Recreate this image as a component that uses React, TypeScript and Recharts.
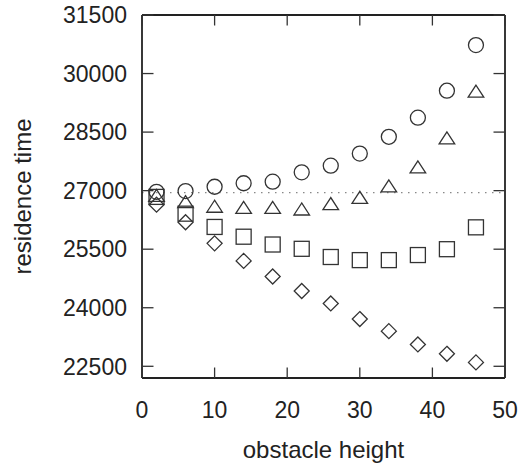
import React from 'react';
import { ScatterChart, Scatter, XAxis, YAxis, ReferenceLine } from 'recharts';

const heights = [2, 6, 10, 14, 18, 22, 26, 30, 34, 38, 42, 46];
const circleVals = [26970, 26990, 27100, 27190, 27230, 27470, 27640, 27950, 28380, 28870, 29560, 30730];
const triangleVals = [26880, 26720, 26600, 26570, 26570, 26530, 26670, 26830, 27120, 27610, 28350, 29550];
const squareVals = [26840, 26410, 26070, 25820, 25620, 25510, 25300, 25220, 25220, 25350, 25500, 26060];
const diamondVals = [26640, 26190, 25650, 25200, 24800, 24430, 24110, 23710, 23400, 23060, 22820, 22600];
const xTicks = [0, 10, 20, 30, 40, 50];
const yTicks = [22500, 24000, 25500, 27000, 28500, 30000, 31500];
const baseline = 26950;

const toPoints = (vals: number[]) => heights.map((h, i) => ({ x: h, y: vals[i] }));

const MK = '#333';
const SW = 1.3;
const FONT = '"Liberation Sans", Arial, sans-serif';
const TXT = '#222';
const TICK_FS = 23;
const TITLE_FS = 24;
const TICK_LEN = 11.5;
const TICK_STROKE = { stroke: '#333', strokeWidth: 1.3 };
const axisLineStyle = { stroke: '#222', strokeWidth: 1.8 };

const CircleShape = (p: any) => <circle cx={p.cx} cy={p.cy} r={7.5} fill="none" stroke={MK} strokeWidth={SW} />;
const TriangleShape = (p: any) => (
  <polygon
    points={`${p.cx},${p.cy - 6} ${p.cx - 7.8},${p.cy + 6} ${p.cx + 7.8},${p.cy + 6}`}
    fill="none"
    stroke={MK}
    strokeWidth={SW}
  />
);
const SquareShape = (p: any) => (
  <rect x={p.cx - 7.5} y={p.cy - 7.5} width={15} height={15} fill="none" stroke={MK} strokeWidth={SW} />
);
const DiamondShape = (p: any) => (
  <polygon
    points={`${p.cx},${p.cy - 7.5} ${p.cx + 7.5},${p.cy} ${p.cx},${p.cy + 7.5} ${p.cx - 7.5},${p.cy}`}
    fill="none"
    stroke={MK}
    strokeWidth={SW}
  />
);
const HiddenShape = () => <g />;

const LEFT_MARGIN = 15;
const BOTTOM_MARGIN = 23;

const LeftTick = (p: any) => {
  const ax = p.x + LEFT_MARGIN;
  return (
    <g>
      <line x1={ax} x2={ax + TICK_LEN} y1={p.y} y2={p.y} {...TICK_STROKE} />
      <text x={p.x} y={p.y + 0.358 * TICK_FS} textAnchor="end" fill={TXT} fontSize={TICK_FS} fontFamily={FONT}>
        {p.payload.value}
      </text>
    </g>
  );
};

const BottomTick = (p: any) => {
  const ay = p.y - BOTTOM_MARGIN;
  return (
    <g>
      <line x1={p.x} x2={p.x} y1={ay} y2={ay - TICK_LEN + 1} {...TICK_STROKE} />
      <text x={p.x} y={ay + 39.5} textAnchor="middle" fill={TXT} fontSize={TICK_FS} fontFamily={FONT}>
        {p.payload.value}
      </text>
    </g>
  );
};

const TopTick = (p: any) => (
  <line x1={p.x} x2={p.x} y1={p.y} y2={p.y + TICK_LEN - 1} {...TICK_STROKE} />
);

const RightTick = (p: any) => (
  <line x1={p.x - TICK_LEN} x2={p.x} y1={p.y} y2={p.y} {...TICK_STROKE} />
);

export default function App() {
  return (
    <div style={{ position: 'absolute', left: 0, top: 0, background: '#fff' }}>
      <ScatterChart width={531} height={468} margin={{ top: 14, right: 25, bottom: 0, left: 0 }}>
        <XAxis
          xAxisId="b"
          dataKey="x"
          type="number"
          domain={[0, 50]}
          ticks={xTicks}
          allowDataOverflow
          height={90}
          tick={<BottomTick />}
          tickSize={0}
          tickMargin={BOTTOM_MARGIN}
          axisLine={axisLineStyle}
          tickLine={false}
          label={{
            content: (props: any) => {
              const vb = props.viewBox;
              return (
                <text x={vb.x + vb.width / 2} y={vb.y + 80} textAnchor="middle" fill={TXT} fontSize={TITLE_FS} fontFamily={FONT}>
                  obstacle height
                </text>
              );
            },
          }}
        />
        <XAxis
          xAxisId="t"
          orientation="top"
          dataKey="x"
          type="number"
          domain={[0, 50]}
          ticks={xTicks}
          allowDataOverflow
          height={1}
          tick={<TopTick />}
          tickSize={0}
          tickMargin={0}
          axisLine={axisLineStyle}
          tickLine={false}
        />
        <YAxis
          yAxisId="l"
          dataKey="y"
          type="number"
          domain={[22200, 31500]}
          ticks={yTicks}
          allowDataOverflow
          width={142}
          tick={<LeftTick />}
          tickSize={0}
          tickMargin={LEFT_MARGIN}
          axisLine={axisLineStyle}
          tickLine={false}
          label={{
            content: (props: any) => {
              const vb = props.viewBox;
              const cy = vb.y + vb.height / 2;
              return (
                <text
                  x={0}
                  y={0}
                  transform={`translate(31, ${cy}) rotate(-90)`}
                  textAnchor="middle"
                  fill={TXT}
                  fontSize={TITLE_FS}
                  fontFamily={FONT}
                >
                  residence time
                </text>
              );
            },
          }}
        />
        <YAxis
          yAxisId="r"
          orientation="right"
          dataKey="y"
          type="number"
          domain={[22200, 31500]}
          ticks={yTicks}
          allowDataOverflow
          width={1}
          tick={<RightTick />}
          tickSize={0}
          tickMargin={0}
          axisLine={axisLineStyle}
          tickLine={false}
        />
        <ReferenceLine xAxisId="b" yAxisId="l" y={baseline} stroke="#888" strokeWidth={1.2} strokeDasharray="1.5 5.5" />
        <Scatter xAxisId="t" yAxisId="r" data={toPoints(circleVals)} shape={HiddenShape} isAnimationActive={false} />
        <Scatter xAxisId="b" yAxisId="l" data={toPoints(circleVals)} shape={CircleShape} isAnimationActive={false} />
        <Scatter xAxisId="b" yAxisId="l" data={toPoints(triangleVals)} shape={TriangleShape} isAnimationActive={false} />
        <Scatter xAxisId="b" yAxisId="l" data={toPoints(squareVals)} shape={SquareShape} isAnimationActive={false} />
        <Scatter xAxisId="b" yAxisId="l" data={toPoints(diamondVals)} shape={DiamondShape} isAnimationActive={false} />
      </ScatterChart>
    </div>
  );
}
